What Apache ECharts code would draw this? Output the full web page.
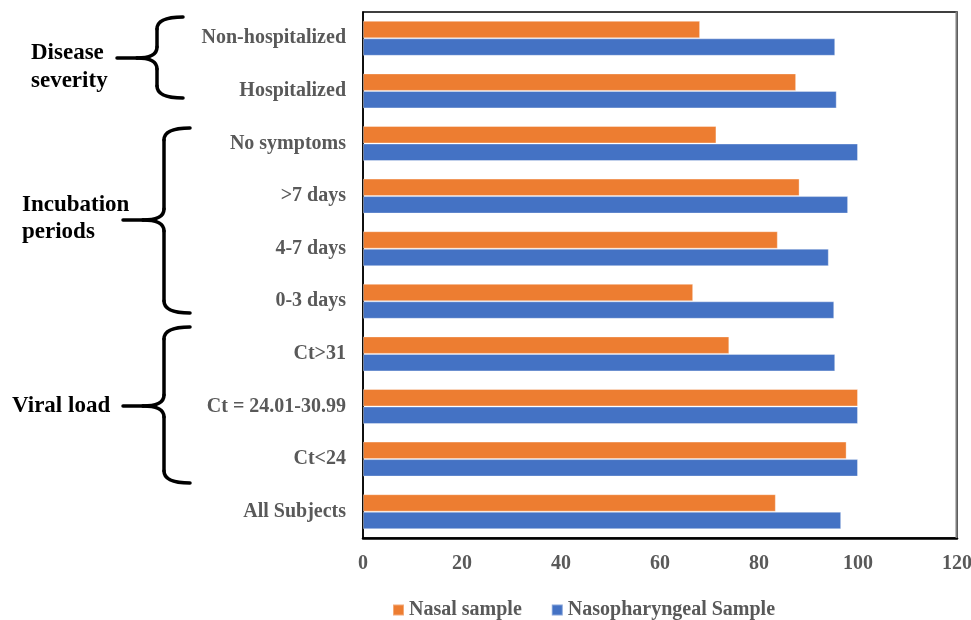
<!DOCTYPE html>
<html>
<head>
<meta charset="utf-8">
<script src="https://cdn.jsdelivr.net/npm/echarts@6/dist/echarts.min.js"></script>
<style>html,body{margin:0;padding:0;background:#fff;overflow:hidden}#c{width:971px;height:620px}</style>
</head>
<body>
<div id="c"></div>
<script>
// Categories listed bottom to top
var categories = ['All Subjects', 'Ct<24', 'Ct = 24.01-30.99', 'Ct>31', '0-3 days', '4-7 days', '>7 days', 'No symptoms', 'Hospitalized', 'Non-hospitalized'];
var nasalValues = [83.4, 97.7, 100, 74.0, 66.7, 83.8, 88.2, 71.4, 87.5, 68.1];
var npValues = [96.6, 100, 100, 95.4, 95.2, 94.1, 98.0, 100, 95.7, 95.4];
var xTicks = [0, 20, 40, 60, 80, 100, 120];
var seriesNames = ['Nasal sample', 'Nasopharyngeal Sample'];

var FONT = '"Liberation Serif", "Times New Roman", serif';
var GRAY = '#595959';
var chart = echarts.init(document.getElementById('c'), null, {renderer: 'canvas'});

var braceStyle = {fill: 'none', stroke: '#000', lineWidth: 3.5, lineCap: 'round'};
function curve(x1, y1, cx, cy, x2, y2) {
  return {type: 'bezierCurve', shape: {x1: x1, y1: y1, cpx1: cx, cpy1: cy, x2: x2, y2: y2}, style: braceStyle, z: 100};
}
function seg(x1, y1, x2, y2) {
  return {type: 'line', shape: {x1: x1, y1: y1, x2: x2, y2: y2}, style: braceStyle, z: 100};
}
function brace(armX, vX, tipX, top, mid, bottom) {
  var r = 12;
  return [
    curve(armX, top, vX, top, vX, top + r),
    seg(vX, top + r, vX, mid - 11),
    curve(vX, mid - 11, vX, mid, tipX + 20, mid),
    seg(tipX + 20, mid, tipX, mid),
    curve(vX, mid + 11, vX, mid, tipX + 20, mid),
    seg(vX, mid + 11, vX, bottom - r),
    curve(vX, bottom - r, vX, bottom, armX, bottom)
  ];
}
function label(text, x, y) {
  return {
    type: 'text', left: x, top: y - 13,
    style: {text: text, font: 'bold 23px ' + FONT, fill: '#000'},
    z: 100
  };
}

var graphics = [
  {type: 'line', shape: {x1: 956.5, y1: 11.5, x2: 956.5, y2: 538}, style: {stroke: '#7f7f7f', lineWidth: 2}, z: 100},
  label('Disease', 31, 55),
  label('severity', 31, 83),
  label('Incubation', 22, 207),
  label('periods', 22, 234),
  label('Viral load', 12, 408)
].concat(brace(183, 157, 117, 17, 58, 98))
 .concat(brace(190, 164, 123, 128, 220, 313))
 .concat(brace(190, 164, 123, 327, 406, 483));

chart.setOption({
  animation: false,
  backgroundColor: '#fff',
  grid: {left: 363, right: 14, top: 12, bottom: 82, show: true, borderColor: '#000', borderWidth: 1.5,
         containLabel: false, outerBoundsMode: 'none'},
  legend: {
    data: seriesNames, left: 392, top: 600, padding: 0, itemWidth: 11, itemHeight: 11, itemGap: 29, icon: 'rect',
    textStyle: {fontFamily: FONT, fontWeight: 'bold', fontSize: 20, color: GRAY}
  },
  xAxis: {
    type: 'value', min: xTicks[0], max: xTicks[xTicks.length - 1], interval: 20,
    splitLine: {show: false},
    axisLine: {show: true, lineStyle: {color: '#000', width: 2.5}},
    axisTick: {show: false},
    axisLabel: {margin: 16, fontFamily: FONT, fontWeight: 'bold', fontSize: 20, color: GRAY}
  },
  yAxis: {
    type: 'category', data: categories,
    axisLine: {show: true, lineStyle: {color: '#000', width: 1.5}},
    axisTick: {show: false},
    axisLabel: {margin: 17, fontFamily: FONT, fontWeight: 'bold', fontSize: 20, color: GRAY}
  },
  series: [
    {name: seriesNames[0], type: 'bar', data: nasalValues, barGap: '0%', barCategoryGap: '33.5%',
     itemStyle: {color: '#ED7D31', borderColor: 'rgba(255,255,255,0.35)', borderWidth: 1}},
    {name: seriesNames[1], type: 'bar', data: npValues, barGap: '0%', barCategoryGap: '33.5%',
     itemStyle: {color: '#4472C4', borderColor: 'rgba(255,255,255,0.35)', borderWidth: 1}}
  ],
  graphic: graphics
});
</script>
</body>
</html>
